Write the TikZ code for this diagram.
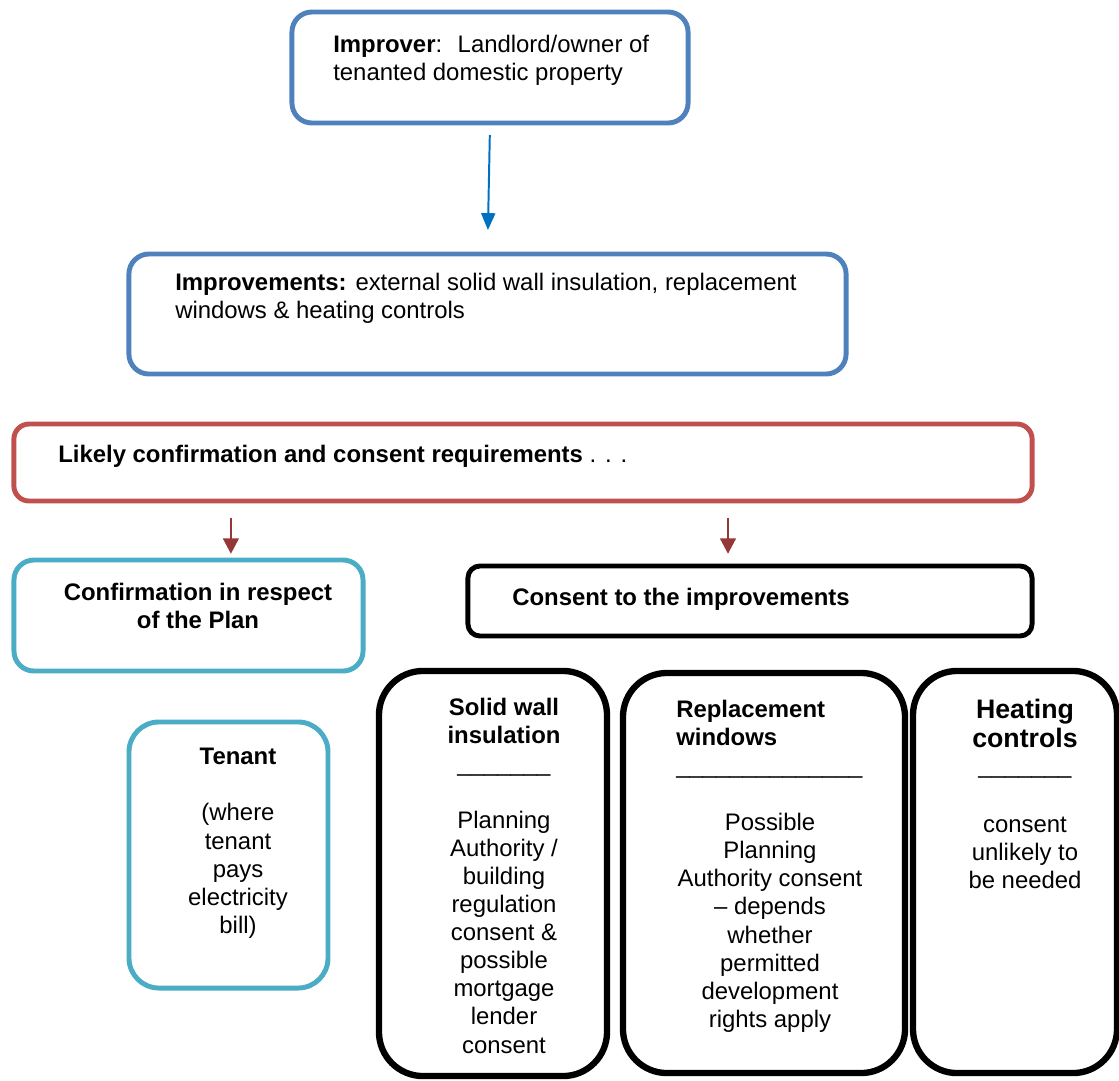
\documentclass[tikz,border=0pt]{standalone}
\usepackage{fontspec}
\setmainfont{Liberation Sans}
\usetikzlibrary{arrows.meta}

\definecolor{boxblue}{HTML}{4F81BD}
\definecolor{boxred}{HTML}{C0504D}
\definecolor{boxteal}{HTML}{4BACC6}
\definecolor{arrowblue}{HTML}{0070C0}
\definecolor{arrowred}{HTML}{953735}

\begin{document}
\begin{tikzpicture}[
    x=0.025cm, y=-0.025cm,
    every node/.style={font=\fontsize{17pt}{20pt}\selectfont, inner sep=0pt},
    box/.style={rectangle, draw, line width=3.5pt, fill=white},
    bluebox/.style={box, draw=boxblue, rounded corners=0.5cm},
    redbox/.style={box, draw=boxred, rounded corners=0.38cm},
    tealbox/.style={box, draw=boxteal},
    blackbox/.style={box, draw=black, rounded corners=0.3cm},
    column/.style={box, draw=black, line width=4.5pt, rounded corners=1.1cm},
    txt/.style={align=left, anchor=north west},
    ctxt/.style={align=center, anchor=north},
    bigtxt/.style={ctxt, font=\fontsize{19pt}{20.5pt}\selectfont\bfseries},
    arrow/.style={line width=1.4pt},
    bluearrow/.style={arrow, draw=arrowblue, -{Triangle[length=12pt, width=10pt]}, arrowblue},
    redarrow/.style={arrow, line width=2pt, draw=arrowred, -{Triangle[length=11pt, width=11pt]}, arrowred}
]
\useasboundingbox (0,0) rectangle (1119,1080);

% Improver
\node[bluebox, minimum width=9.9cm, minimum height=2.775cm] (improver) at (490,67.5) {};
\node[txt] (improver-text) at (333,35) {\textbf{Improver}:~ Landlord/owner of\\tenanted domestic property};

% Improvements
\node[bluebox, minimum width=17.925cm, minimum height=3cm] (improvements) at (487.5,314) {};
\node[txt] (improvements-text) at (175,273) {\textbf{Improvements:} external solid wall insulation, replacement\\windows \& heating controls};

\draw[bluearrow, shorten <=6.8pt, shorten >=15.3pt] (improver.south) -- (improvements.north);

% Requirements
\node[redbox, minimum width=25.45cm, minimum height=1.925cm] (likely) at (523,462.5) {};
\node[txt] (likely-text) at (58,445) {\textbf{Likely confirmation and consent requirements} . . .};

% Confirmation
\node[tealbox, rounded corners=0.5cm, minimum width=8.725cm, minimum height=2.775cm] (conf) at (188.5,615.5) {};
\node[ctxt, font=\fontsize{17pt}{20pt}\selectfont\bfseries] (conf-text) at (198,583) {Confirmation in respect\\of the Plan};

% Consent
\node[blackbox, minimum width=14.1cm, minimum height=1.75cm] (consent) at (750,601) {};
\node[txt] (consent-text) at (512,588) {\textbf{Consent to the improvements}};

\draw[redarrow, shorten <=10pt, shorten >=2.6pt] ([xshift=1.06cm]conf.north |- likely.south) -- ([xshift=1.06cm]conf.north);
\draw[redarrow, shorten <=10pt, shorten >=6.9pt] ([xshift=-0.55cm]consent.north |- likely.south) -- ([xshift=-0.55cm]consent.north);

% Tenant
\node[tealbox, rounded corners=0.75cm, minimum width=4.975cm, minimum height=6.65cm] (tenant) at (228.5,855) {};
\node[ctxt] (tenant-text) at (238,748) {\textbf{Tenant}\\[20pt](where\\tenant\\pays\\electricity\\bill)};

% Solid wall insulation
\node[column, minimum width=5.7cm, minimum height=10.125cm] (wall) at (493,873.5) {};
\node[ctxt] (wall-text) at (504,698) {\textbf{Solid wall}\\\textbf{insulation}\\\_\_\_\_\_\_\_\\[20pt]Planning\\Authority /\\building\\regulation\\consent \&\\possible\\mortgage\\lender\\consent};

% Replacement windows
\node[column, minimum width=7.05cm, minimum height=10cm] (windows) at (764,873) {};
\node[txt] (windows-head) at (676,700) {\textbf{Replacement}\\\textbf{windows}\\\_\_\_\_\_\_\_\_\_\_\_\_\_\_};
\node[ctxt] (windows-text) at (770,813) {Possible\\Planning\\Authority consent\\-- depends\\whether\\permitted\\development\\rights apply};

% Heating controls
\node[column, minimum width=5.1cm, minimum height=10.05cm] (heating) at (1015,872) {};
\node[bigtxt] (heating-head) at (1025,699) {Heating\\controls};
\node[anchor=base] (heating-line) at (1025,773) {\_\_\_\_\_\_\_};
\node[ctxt] (heating-text) at (1025,817) {consent\\unlikely to\\be needed};

\end{tikzpicture}
\end{document}
